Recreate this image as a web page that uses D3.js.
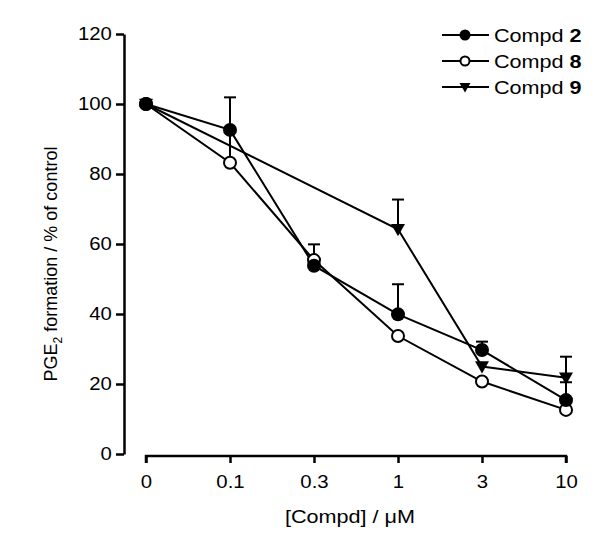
<!DOCTYPE html>
<html>
<head>
<meta charset="utf-8">
<script src="https://cdn.jsdelivr.net/npm/d3@7"></script>
<style>
  body { margin: 0; background: #fff; }
  svg text { font-family: Arial, "Liberation Sans", sans-serif; fill: #000; }
</style>
</head>
<body>
<div class="canvas"></div>
<script>
const doses = ['0', '0.1', '0.3', '1', '3', '10'];
const yTicks = [0, 20, 40, 60, 80, 100, 120];

// values, null where a compound has no point
const compd2 = [100, 92.6, 53.8, 39.9, 29.7, 15.4];
const compd2Err = [0, 9.3, 0, 8.6, 2.4, 5.1];
const compd8 = [100, 83.2, 55.4, 33.7, 20.7, 12.6];
const compd8Err = [0, 9, 4.5, 0, 0, 0];
const compd9 = [100, null, null, 64.2, 25, 21.8];
const compd9Err = [0, null, null, 8.5, 0, 6];

const seriesNames = ['2', '8', '9'];
const seriesShapes = ['filled', 'open', 'triangle'];

const width = 600, height = 544;

const svg = d3.select('.canvas')
  .append('svg')
   .attr('width', width)
   .attr('height', height);

const x = d3.scalePoint()
  .domain(doses)
  .range([146, 566]);

const y = d3.scaleLinear()
  .domain([0, 120])
  .range([454, 34]);

// axes
const yAxisGroup = svg.append('g').attr('transform', 'translate(124,0)');
const xAxisGroup = svg.append('g').attr('transform', 'translate(0,456)');

yAxisGroup.call(d3.axisLeft(y).tickValues(yTicks).tickSize(8).tickPadding(3).tickSizeOuter(0));
xAxisGroup.call(d3.axisBottom(x).tickSize(7).tickPadding(12).tickSizeOuter(0));

[yAxisGroup, xAxisGroup].forEach(g => {
  g.select('.domain').attr('stroke', '#000').attr('stroke-width', 2.5);
  g.selectAll('.tick line').attr('stroke', '#000').attr('stroke-width', 2.5);
  g.selectAll('text')
    .style('font-size', '18.5px')
    .attr('fill', '#000')
    .attr('transform', 'scale(1.1,1)');
});
// x domain line should start at first tick
xAxisGroup.select('.domain').attr('d', `M${x('0')},7V0H${x('10')}V7`);

// axis titles
svg.append('g')
  .attr('transform', 'translate(350,523) scale(1.2,1)')
  .append('text')
   .attr('text-anchor', 'middle')
   .style('font-size', '18px')
   .text('[Compd] / μM');

const yTitle = svg.append('text')
  .attr('transform', 'translate(57,264) rotate(-90)')
  .attr('text-anchor', 'middle')
  .style('font-size', '18px');
yTitle.append('tspan').text('PGE');
yTitle.append('tspan').attr('dy', 5).style('font-size', '12px').text('2');
yTitle.append('tspan').attr('dy', -5).text(' formation / % of control');

const series = [
  { name: seriesNames[0], shape: seriesShapes[0], values: compd2, err: compd2Err },
  { name: seriesNames[1], shape: seriesShapes[1], values: compd8, err: compd8Err },
  { name: seriesNames[2], shape: seriesShapes[2], values: compd9, err: compd9Err }
];

const points = s => doses
  .map((d, i) => ({ dose: d, v: s.values[i], e: s.err[i] }))
  .filter(p => p.v !== null);

const line = d3.line()
  .x(p => x(p.dose))
  .y(p => y(p.v));

//error bars (upper only)
series.forEach(s => {
  const g = svg.append('g');
  points(s).filter(p => p.e > 0).forEach(p => {
    g.append('line')
      .attr('x1', x(p.dose)).attr('x2', x(p.dose))
      .attr('y1', y(p.v)).attr('y2', y(p.v + p.e))
      .attr('stroke', '#000').attr('stroke-width', 2);
    g.append('line')
      .attr('x1', x(p.dose) - 6).attr('x2', x(p.dose) + 6)
      .attr('y1', y(p.v + p.e)).attr('y2', y(p.v + p.e))
      .attr('stroke', '#000').attr('stroke-width', 2);
  });
});

// connecting lines
series.forEach(s => {
  svg.append('path')
    .datum(points(s))
    .attr('d', line)
    .attr('fill', 'none')
    .attr('stroke', '#000')
    .attr('stroke-width', 2);
});

function drawMarker(g, shape, cx, cy, r) {
  if (shape === 'triangle') {
    g.append('path')
      .attr('d', `M${cx - r},${cy - r * 0.75}L${cx + r},${cy - r * 0.75}L${cx},${cy + r}Z`)
      .attr('fill', '#000');
  } else {
    g.append('circle')
      .attr('cx', cx).attr('cy', cy)
      .attr('r', shape === 'open' ? r - 1 : r)
      .attr('fill', shape === 'open' ? '#fff' : '#000')
      .attr('stroke', '#000')
      .attr('stroke-width', shape === 'open' ? 2 : 0);
  }
}

// markers (triangle drawn first so circles sit over it)
[series[2], series[1], series[0]].forEach(s => {
  const g = svg.append('g');
  points(s).forEach(p => drawMarker(g, s.shape, x(p.dose), y(p.v), 7));
});

// legend
const legendRows = [35, 61, 87];
series.forEach((s, i) => {
  const g = svg.append('g').attr('transform', `translate(0,${legendRows[i]})`);
  g.append('line')
    .attr('x1', 442).attr('x2', 489)
    .attr('y1', 0).attr('y2', 0)
    .attr('stroke', '#000').attr('stroke-width', 2);
  drawMarker(g, s.shape, 465, 0, 5.5);
  const t = g.append('g')
    .attr('transform', 'translate(494,6.5) scale(1.2,1)')
    .append('text')
     .style('font-size', '18px');
  t.append('tspan').text('Compd ');
  t.append('tspan').style('font-weight', 'bold').text(s.name);
});
</script>
</body>
</html>
